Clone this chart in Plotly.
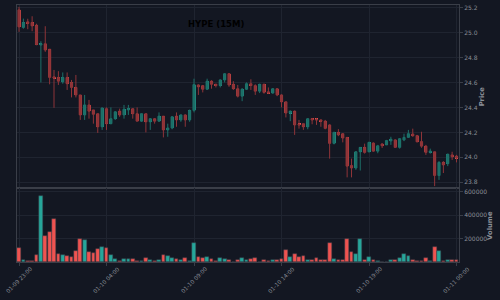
import plotly.graph_objects as go

# ---- data ----
opens = [25.181,25.04,25.085,25.08,25.058,24.9,24.91,24.866,24.645,24.64,
         24.605,24.64,24.6,24.56,24.5,24.34,24.42,24.38,24.35,24.245,
         24.39,24.27,24.31,24.37,24.34,24.38,24.39,24.35,24.29,24.35,
         24.285,24.31,24.29,24.33,24.22,24.235,24.33,24.3,24.34,24.3,
         24.376,24.58,24.575,24.545,24.61,24.585,24.575,24.62,24.67,24.585,
         24.55,24.49,24.545,24.59,24.575,24.53,24.585,24.525,24.515,24.55,
         24.5,24.445,24.355,24.37,24.265,24.27,24.245,24.31,24.305,24.3,
         24.29,24.26,24.112,24.2,24.19,24.16,23.935,23.915,24.045,24.08,
         24.045,24.115,24.05,24.107,24.1,24.132,24.14,24.08,24.14,24.16,
         24.187,24.175,24.127,24.09,24.04,24.045,23.855,23.96,23.95,24.02,24.01]
highs = [25.205,25.111,25.11,25.13,25.07,24.93,25.05,24.866,24.70,24.69,
         24.68,24.68,24.62,24.66,24.5,24.5,24.46,24.38,24.35,24.4,
         24.4,24.4,24.37,24.39,24.42,24.42,24.395,24.40,24.35,24.35,
         24.315,24.315,24.36,24.33,24.27,24.33,24.36,24.345,24.345,24.383,
         24.63,24.585,24.58,24.63,24.618,24.59,24.625,24.675,24.675,24.61,
         24.58,24.555,24.6,24.625,24.585,24.59,24.59,24.56,24.555,24.555,
         24.505,24.445,24.375,24.375,24.3,24.27,24.315,24.315,24.315,24.305,
         24.3,24.265,24.205,24.226,24.195,24.16,23.99,24.05,24.08,24.11,
         24.125,24.12,24.1,24.115,24.14,24.165,24.145,24.155,24.19,24.22,
         24.23,24.18,24.205,24.1,24.07,24.045,23.97,23.97,24.03,24.045,24.02]
lows = [25.005,25.03,25.026,25.01,24.898,24.6,24.845,24.585,24.397,24.58,
        24.59,24.54,24.48,24.48,24.3,24.3,24.31,24.27,24.196,24.22,
        24.22,24.265,24.3,24.325,24.31,24.34,24.31,24.29,24.285,24.2,
        24.22,24.27,24.285,24.16,24.165,24.225,24.245,24.285,24.245,24.285,
        24.36,24.5,24.52,24.54,24.55,24.56,24.56,24.6,24.565,24.54,
        24.48,24.45,24.54,24.54,24.5,24.515,24.51,24.51,24.51,24.49,
        24.4,24.32,24.29,24.18,24.23,24.22,24.225,24.265,24.26,24.245,
        24.225,23.99,24.104,24.17,24.12,23.84,23.84,23.9,23.895,24.03,
        24.04,24.045,24.033,24.075,24.1,24.1,24.077,24.07,24.13,24.155,
        24.165,24.12,24.077,24.02,24.03,23.77,23.82,23.875,23.93,23.98,23.96]
closes = [25.045,25.08,25.072,25.053,24.903,24.91,24.86,24.64,24.635,24.61,
          24.64,24.59,24.56,24.5,24.34,24.42,24.37,24.345,24.245,24.395,
          24.27,24.31,24.365,24.34,24.385,24.39,24.35,24.29,24.35,24.285,
          24.31,24.29,24.33,24.22,24.235,24.325,24.3,24.34,24.3,24.376,
          24.583,24.565,24.545,24.61,24.585,24.575,24.62,24.67,24.58,24.55,
          24.49,24.545,24.59,24.575,24.53,24.585,24.52,24.515,24.55,24.5,
          24.445,24.355,24.37,24.26,24.26,24.245,24.31,24.3,24.3,24.29,
          24.232,24.112,24.2,24.18,24.155,23.93,23.915,24.045,24.08,24.04,
          24.12,24.05,24.093,24.093,24.135,24.145,24.08,24.15,24.16,24.19,
          24.173,24.125,24.09,24.04,24.05,23.855,23.96,23.94,24.025,24.005,23.995]
volumes = [123000,21000,10000,10000,61000,566000,220000,254000,365000,70000,
           61000,50000,41000,95000,197000,189000,84000,81000,112000,132000,
           121000,64000,27000,10000,27000,24000,27000,10000,7000,35000,
           13000,7000,16000,61000,50000,35000,27000,16000,38000,10000,
           163000,44000,33000,44000,27000,10000,38000,27000,16000,4000,
           16000,30000,18000,27000,30000,4000,13000,7000,13000,16000,
           24000,106000,41000,72000,41000,52000,21000,13000,30000,13000,
           21000,160000,27000,21000,13000,197000,84000,67000,197000,16000,
           44000,16000,10000,4000,4000,18000,18000,35000,67000,55000,
           16000,10000,10000,33000,10000,129000,92000,10000,18000,18000,16000]
tick_pos = [0, 20, 40, 60, 80, 100]
tick_labels = ["01-09 23:00", "01-10 04:00", "01-10 09:00",
               "01-10 14:00", "01-10 19:00", "01-11 00:00"]
price_ticks = [23.8, 24.0, 24.2, 24.4, 24.6, 24.8, 25.0, 25.2]
volume_ticks = [200000, 400000, 600000]
title_text = "HYPE (15M)"

# ---- styling ----
BG = "#131722"
UP = "#26a69a"
DOWN = "#ef5350"
UP_WICK = "#1d6f68"
DOWN_WICK = "#8e3438"
GRID = "#1f2430"
SPINE = "#3a3e48"
TXT = "#8a8e96"
FONT = "DejaVu Sans"

idx = list(range(len(opens)))
up = [c >= o for o, c in zip(opens, closes)]
body_base = [min(o, c) for o, c in zip(opens, closes)]
body_h = [max(abs(c - o), 0.008) for o, c in zip(opens, closes)]
body_col = [UP if u else DOWN for u in up]

fig = go.Figure()
fig.add_trace(go.Candlestick(
    x=idx, open=opens, high=highs, low=lows, close=closes,
    increasing=dict(line=dict(color=UP_WICK, width=1), fillcolor=UP_WICK),
    decreasing=dict(line=dict(color=DOWN_WICK, width=1), fillcolor=DOWN_WICK),
    whiskerwidth=0, showlegend=False, hoverinfo="skip",
    xaxis="x", yaxis="y"))
fig.add_trace(go.Bar(
    x=idx, y=body_h, base=body_base, width=0.68,
    marker=dict(color=body_col, line=dict(width=0)),
    showlegend=False, hoverinfo="skip", xaxis="x", yaxis="y"))
fig.add_trace(go.Bar(
    x=idx, y=volumes, width=0.86,
    marker=dict(color=body_col, line=dict(width=0.5, color="#3a3e48")),
    showlegend=False, hoverinfo="skip", xaxis="x2", yaxis="y2"))

xr = [-0.46, 100.57]
common_x = dict(range=xr, showgrid=True, gridcolor=GRID, gridwidth=1,
                tickvals=tick_pos, zeroline=False, showline=True,
                linecolor=SPINE, linewidth=1, mirror=True)

annotations = [
    dict(text="<b>" + title_text + "</b>", xref="paper", yref="paper",
         x=0.451, y=0.926, xanchor="center", yanchor="middle",
         showarrow=False, font=dict(size=8.5, color="#000000", family=FONT)),
    dict(text="<b>Price</b>", xref="paper", yref="paper",
         x=1.054, y=0.644, textangle=-90, xanchor="center", yanchor="middle",
         showarrow=False, font=dict(size=6.8, color=TXT, family=FONT)),
    dict(text="<b>Volume</b>", xref="paper", yref="paper",
         x=1.070, y=0.144, textangle=-90, xanchor="center", yanchor="middle",
         showarrow=False, font=dict(size=6.8, color=TXT, family=FONT)),
]
for p, lab in zip(tick_pos, tick_labels):
    annotations.append(dict(
        text=lab, xref="x2", yref="paper", x=p, y=-0.070,
        textangle=-45, xanchor="center", yanchor="middle", showarrow=False,
        font=dict(size=5.6, color=TXT, family=FONT)))

fig.update_layout(
    width=500, height=300,
    margin=dict(l=17, r=41, t=5, b=38),
    paper_bgcolor=BG, plot_bgcolor=BG,
    barmode="overlay", bargap=0,
    font=dict(family=FONT, size=6, color=TXT),
    xaxis=dict(**common_x, anchor="y", showticklabels=False,
               rangeslider=dict(visible=False), ticks=""),
    xaxis2=dict(**common_x, anchor="y2", matches="x", showticklabels=False,
                ticks="outside", ticklen=3, tickcolor=SPINE),
    yaxis=dict(domain=[0.288, 1], range=[23.755, 25.22], side="right",
               tickvals=price_ticks, tickformat=".1f",
               ticks="outside", ticklen=3, tickcolor=SPINE,
               showgrid=True, gridcolor=GRID, zeroline=False,
               showline=True, linecolor=SPINE, mirror=True,
               tickfont=dict(size=6, color=TXT), anchor="x"),
    yaxis2=dict(domain=[0, 0.288], range=[0, 630000], side="right",
                tickvals=volume_ticks, tickformat="d",
                ticks="outside", ticklen=3, tickcolor=SPINE,
                showgrid=True, gridcolor=GRID, zeroline=False,
                showline=True, linecolor=SPINE, mirror=True,
                tickfont=dict(size=6, color=TXT), anchor="x2"),
    annotations=annotations,
)

fig.write_html("out.html")
